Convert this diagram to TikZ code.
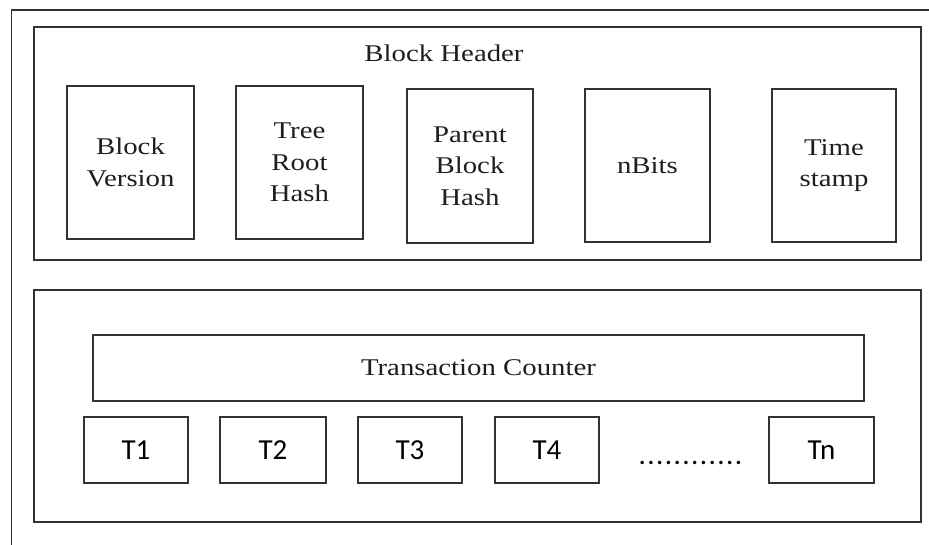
\documentclass[tikz,border=0pt]{standalone}
\usepackage{fontspec}
\setmainfont{Liberation Serif}[FakeStretch=1.2]
\newfontfamily\tfont{Carlito}
\newfontfamily\dotfont{Carlito}[LetterSpace=5]
\definecolor{linec}{HTML}{333333}
\definecolor{textc}{HTML}{1E1E1E}
\begin{document}
\begin{tikzpicture}[x=1pt,y=-1pt,
  frame/.style={draw=linec, line width=1.5pt},
  field/.style={draw=linec, line width=1.6pt, fill=white, align=center, inner sep=0pt,
     text=textc, font=\fontsize{24}{31.5}\selectfont},
  thick field/.style={field, line width=2.3pt},
  title/.style={text=textc, inner sep=0pt, font=\fontsize{24}{30}\selectfont},
  txbox/.style={draw=linec, line width=1.8pt, fill=white, inner sep=0pt, text=black,
     minimum height=66pt, font=\tfont\fontsize{29}{32}\selectfont}]
\useasboundingbox (0,0) rectangle (929,544);
% outer frame (right and bottom edges lie outside the picture)
\draw[frame] (11.5,560) -- (11.5,10) -- (945,10);
% containers
\draw[frame] (34,27) rectangle (921,260);
\draw[frame] (34,290) rectangle (921,522);
\node[title] (bh) at (444,53) {Block Header};
% header fields
\node[field, minimum width=127pt, minimum height=153pt] (bv) at (130.5,162.5) {Block\\Version};
\node[thick field, minimum width=127pt, minimum height=153pt] (trh) at (299.5,162.5) {Tree\\Root\\Hash};
\node[field, minimum width=126pt, minimum height=154pt] (pbh) at (470,166) {Parent\\Block\\Hash};
\node[field, minimum width=125pt, minimum height=153pt] (nb) at (647.5,165.5) {nBits};
\node[field, minimum width=124pt, minimum height=153pt] (ts) at (834,165.5) {Time\\stamp};
% transactions
\node[field, line width=1.5pt, minimum width=771pt, minimum height=66pt] (tc) at (478.5,368) {Transaction Counter};
\node[txbox, minimum width=104pt] (t1) at (136,450) {T1};
\node[txbox, minimum width=106pt] (t2) at (273,450) {T2};
\node[txbox, minimum width=104pt] (t3) at (410,450) {T3};
\node[txbox, minimum width=104pt] (t4) at (547,450) {T4};
\node[txbox, minimum width=105pt] (tn) at (821.5,450) {Tn};
\node[inner sep=0pt, anchor=base, text=black, font=\dotfont\fontsize{29}{32}\selectfont] (dots) at (690.5,464) {............};
\end{tikzpicture}
\end{document}
